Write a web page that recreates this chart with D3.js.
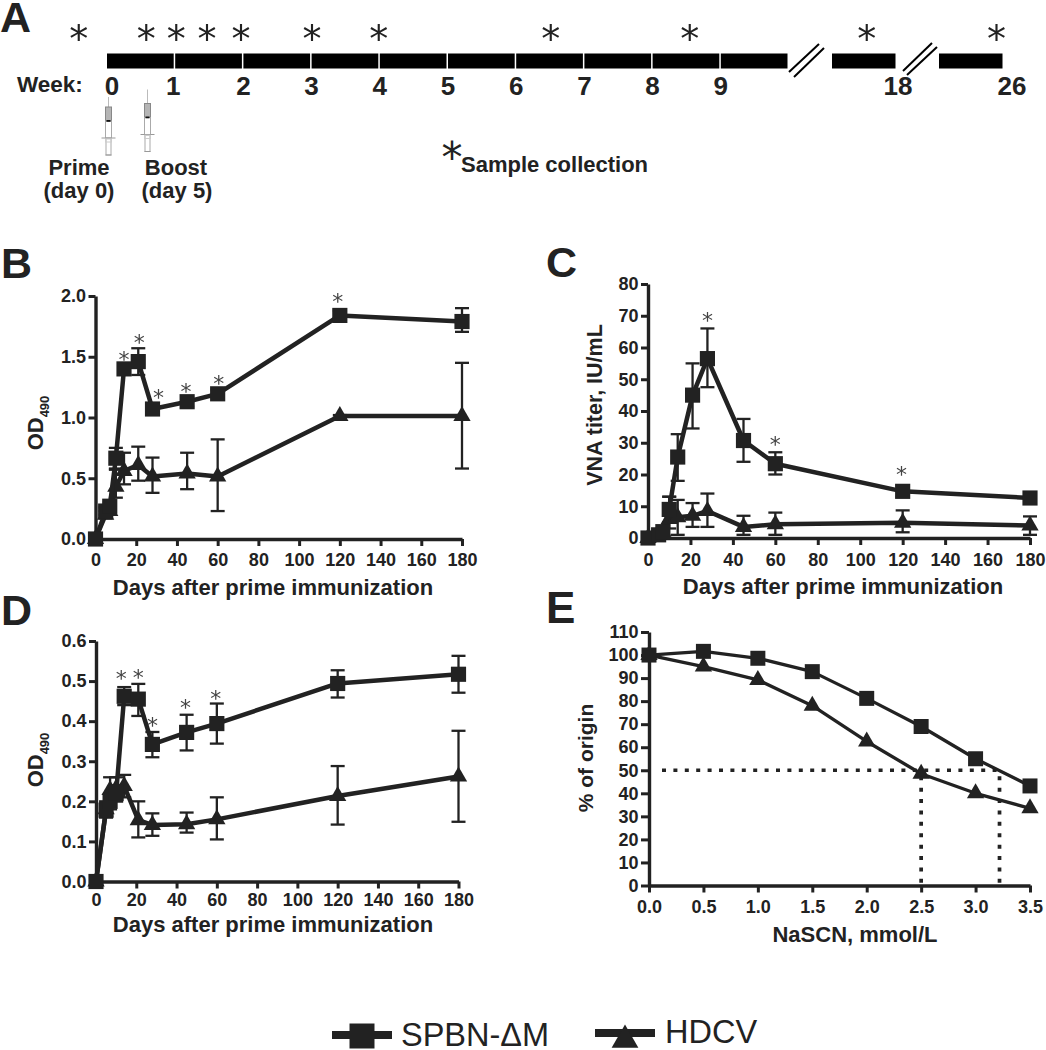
<!DOCTYPE html>
<html>
<head>
<meta charset="utf-8">
<script src="https://cdn.jsdelivr.net/npm/d3@7"></script>
<style>
body { margin: 0; background: #fff; }
text { font-family: "Liberation Sans", Arial, sans-serif; fill: #222; }
.bold { font-weight: bold; }
.star { font-family: "DejaVu Sans", sans-serif; fill: #444; }
.tick text { font-family: "Liberation Sans", Arial, sans-serif; font-weight: bold; font-size: 18px; fill: #222; }
</style>
</head>
<body>
<div class="chart"></div>
<script>
//data

var days = [0, 5, 7, 10, 14, 21, 28, 45, 60, 120, 180];
var dayTicks = [0, 20, 40, 60, 80, 100, 120, 140, 160, 180];

// panel B
var bSquare = [0, 0.23, 0.27, 0.665, 1.40, 1.46, 1.07, 1.13, 1.195, 1.84, 1.79];
var bSquareLow = [0, 0.2, 0.24, 0.57, 1.36, 1.35, 1.03, 1.09, 1.16, 1.8, 1.705];
var bSquareHigh = [0, 0.26, 0.3, 0.75, 1.44, 1.57, 1.11, 1.17, 1.23, 1.88, 1.9];
var bTriangle = [0, 0.2, 0.23, 0.43, 0.56, 0.61, 0.515, 0.54, 0.515, 1.012, 1.012];
var bTriangleLow = [0, 0.17, 0.2, 0.34, 0.45, 0.48, 0.38, 0.41, 0.23, 1.0, 0.58];
var bTriangleHigh = [0, 0.23, 0.26, 0.58, 0.71, 0.76, 0.67, 0.71, 0.82, 1.02, 1.45];
var bTicks = [0, 0.5, 1, 1.5, 2];
var bStarX = [14, 21.5, 31, 44.5, 60.5, 119];
var bStarY = [1.51, 1.65, 1.2, 1.25, 1.315, 1.99];

// panel C
var cSquare = [0, 1, 2, 9, 25.5, 45, 56.5, 30.7, 23.4, 14.7, 12.6];
var cSquareLow = [0, 0.5, 1, 5, 18, 34.5, 47.5, 24, 20, 13, 11];
var cSquareHigh = [0, 1.5, 3, 13, 32.7, 55, 66, 37.5, 27, 16.5, 14];
var cTriangle = [0, 1, 2, 6, 6.5, 7, 8.5, 3.5, 4.3, 4.8, 3.9];
var cTriangleLow = [0, 0.5, 1, 3, 1, 3.5, 3.5, 1, 1, 1.8, 1];
var cTriangleHigh = [0, 1.5, 3, 13, 12, 11, 14, 7, 8, 8.7, 6.8];
var cTicks = [0, 10, 20, 30, 40, 50, 60, 70, 80];
var cStarX = [28, 60, 119.5];
var cStarY = [69.8, 30.6, 21.3];

// panel D
var dSquare = [0, 0.178, 0.2, 0.22, 0.462, 0.455, 0.342, 0.372, 0.394, 0.494, 0.517];
var dSquareLow = [0, 0.16, 0.18, 0.2, 0.44, 0.413, 0.31, 0.327, 0.344, 0.459, 0.471];
var dSquareHigh = [0, 0.196, 0.22, 0.24, 0.485, 0.493, 0.373, 0.416, 0.444, 0.527, 0.563];
var dTriangle = [0, 0.18, 0.228, 0.232, 0.238, 0.153, 0.141, 0.143, 0.155, 0.2135, 0.262];
var dTriangleLow = [0, 0.16, 0.2, 0.2, 0.21, 0.11, 0.114, 0.122, 0.105, 0.142, 0.149];
var dTriangleHigh = [0, 0.2, 0.26, 0.26, 0.266, 0.2, 0.17, 0.172, 0.21, 0.288, 0.376];
var dTicks = [0, 0.1, 0.2, 0.3, 0.4, 0.5, 0.6];
var dStarX = [12.5, 21, 28, 44.5, 59.5];
var dStarY = [0.517, 0.52, 0.398, 0.445, 0.467];

// panel E
var nascn = [0, 0.5, 1, 1.5, 2, 2.5, 3, 3.5];
var eSquare = [100, 101.6, 98.6, 92.8, 81.2, 69, 55, 43.2];
var eTriangle = [100, 95, 89.2, 78, 62.5, 48.5, 40, 33.5];
var eTicks = [0, 10, 20, 30, 40, 50, 60, 70, 80, 90, 100, 110];
var halfValue = 50;
var halfDoses = [2.5, 3.22];

// panel A
var weekLabels = [0, 1, 2, 3, 4, 5, 6, 7, 8, 9, 18, 26];
var weekBlocks = [[0, 1], [1, 2], [2, 3], [3, 4], [4, 5], [5, 6], [6, 7], [7, 8], [8, 9], [9, 10], [17, 18], [25, 26]];
var sampleWeeks = [-0.4, 0.59, 1.03, 1.48, 1.98, 3.02, 4, 6.52, 8.56, 17.55, 25.9];

//define chart area

var svgWidth = 1046;
var svgHeight = 1050;
var ink = "#222";

var svg = d3
.select(".chart")
.append("svg")
.attr("width", svgWidth)
.attr("height", svgHeight)
.style("display", "block");

// keeps the small asterisks grey, no coloured fringes
var noFringe = svg.append("defs").append("filter")
    .attr("id", "noFringe")
    .attr("x", "-50%").attr("y", "-50%").attr("width", "200%").attr("height", "200%");
noFringe.append("feOffset").attr("dx", 0).attr("dy", 0);

function addText(x, y, str, size, weight, anchor) {
    return svg.append("text")
        .attr("x", x)
        .attr("y", y)
        .attr("font-size", size)
        .attr("font-weight", weight || "bold")
        .attr("text-anchor", anchor || "start")
        .text(str);
}

function addStar(x, y, size) {
    return svg.append("text")
        .attr("class", "star")
        .attr("x", x)
        .attr("y", y)
        .attr("font-size", size)
        .attr("text-anchor", "middle")
        .text("*");
}

//panel letters

addText(0, 32, "A", 43);
addText(1, 278, "B", 43);
addText(546, 277, "C", 43);
addText(1, 625, "D", 43);
addText(546, 623, "E", 44);

//timeline, panel A

var weekScale = d3.scaleLinear()
    .domain([0, 10, 17, 18, 25, 26])
    .range([106, 788, 831, 896, 938, 1003]);

svg.append("g").selectAll("rect")
    .data(weekBlocks)
    .enter()
    .append("rect")
    .attr("x", d => weekScale(d[0]) + 1)
    .attr("y", 53.5)
    .attr("width", d => weekScale(d[1]) - weekScale(d[0]) - 1.5)
    .attr("height", 15)
    .attr("fill", "#000");

svg.append("g").selectAll("text")
    .data(weekLabels)
    .enter()
    .append("text")
    .attr("class", "bold")
    .attr("x", d => weekScale(d) + (d === 0 ? 6 : d === 26 ? 9 : d === 18 ? 2 : d === 1 ? -1 : 1))
    .attr("y", 95)
    .attr("font-size", 26)
    .attr("text-anchor", "middle")
    .text(d => d);

svg.append("g")
    .attr("filter", "url(#noFringe)")
    .selectAll("text")
    .data(sampleWeeks)
    .enter()
    .append("text")
    .attr("class", "star")
    .attr("x", d => weekScale(d))
    .attr("y", 52)
    .attr("font-size", 38)
    .attr("text-anchor", "middle")
    .style("fill", ink)
    .text("*");

// axis break marks
[[789, 72, 819, 44], [794, 77, 824, 48], [903, 71, 932, 43], [907, 75, 937, 47]].forEach(d => {
    svg.append("line")
        .attr("x1", d[0]).attr("y1", d[1]).attr("x2", d[2]).attr("y2", d[3])
        .attr("stroke", "#000").attr("stroke-width", 2);
});

addText(17, 92, "Week:", 22.5);
addText(79, 175, "Prime", 22, "bold", "middle");
addText(79, 198, "(day 0)", 22, "bold", "middle");
addText(176, 175, "Boost", 22, "bold", "middle");
addText(177, 198, "(day 5)", 22, "bold", "middle");
addStar(452, 172, 42).style("fill", ink);
addText(461, 172, "Sample collection", 22);

function drawSyringe(x, top, needle) {
    var g = svg.append("g")
        .attr("transform", `translate(${x}, ${top})`)
        .attr("fill", "none")
        .attr("stroke", "#aaa")
        .attr("stroke-width", 1);
    g.append("line").attr("x1", 0).attr("x2", 0).attr("y1", -needle).attr("y2", 0).attr("stroke", "#bbb");
    g.append("rect").attr("x", -3).attr("y", 0).attr("width", 6).attr("height", 14).attr("fill", "#b5b5b5").attr("stroke", "#888");
    g.append("rect").attr("x", -3).attr("y", 14).attr("width", 6).attr("height", 17);
    g.append("rect").attr("x", -2).attr("y", 13).attr("width", 4).attr("height", 1.8).attr("fill", "#111").attr("stroke", "none");
    g.append("line").attr("x1", -7).attr("x2", 7).attr("y1", 31).attr("y2", 31).attr("stroke", "#999");
    g.append("rect").attr("x", -2.5).attr("y", 31).attr("width", 5).attr("height", 17);
    g.append("line").attr("x1", -3).attr("x2", 3).attr("y1", 48).attr("y2", 48).attr("stroke", "#999");
    g.append("rect").attr("x", -3).attr("y", 32).attr("width", 6).attr("height", 3).attr("stroke", "#ccc");
}
drawSyringe(108.5, 107, 10);
drawSyringe(147.5, 103.5, 14);

//line panels

function drawPanel(p) {
    var xScale = d3.scaleLinear().domain(p.xDomain).range(p.xRange);
    var yScale = d3.scaleLinear().domain(p.yDomain).range(p.yRange);

    var bottomAxis = d3.axisBottom(xScale)
        .tickValues(p.xTicks)
        .tickFormat(p.xFormat)
        .tickSizeInner(7)
        .tickSizeOuter(0)
        .tickPadding(p.xPad);
    var leftAxis = d3.axisLeft(yScale)
        .tickValues(p.yTicks)
        .tickFormat(p.yFormat)
        .tickSizeInner(p.yTickLen)
        .tickSizeOuter(0)
        .tickPadding(2.5);

    var xAxis = svg.append("g")
        .attr("transform", `translate(0, ${p.yRange[0]})`)
        .call(bottomAxis);
    var yAxis = svg.append("g")
        .attr("transform", `translate(${p.xRange[0]}, 0)`)
        .call(leftAxis);
    [xAxis, yAxis].forEach(a => {
        a.select(".domain").attr("stroke", ink).attr("stroke-width", 3.4);
        a.selectAll(".tick line").attr("stroke", ink).attr("stroke-width", 3);
    });

    p.series.forEach(s => {
        var g = svg.append("g");

        if (s.low) {
            var bars = g.selectAll("g.err")
                .data(p.xValues.map((x, i) => ({x: x, lo: s.low[i], hi: s.high[i]})).filter(d => d.hi > d.lo))
                .enter()
                .append("g")
                .attr("stroke", ink)
                .attr("stroke-width", 2.3);
            bars.append("line")
                .attr("x1", d => xScale(d.x)).attr("x2", d => xScale(d.x))
                .attr("y1", d => yScale(d.lo)).attr("y2", d => yScale(d.hi));
            bars.append("line")
                .attr("x1", d => xScale(d.x) - 7).attr("x2", d => xScale(d.x) + 7)
                .attr("y1", d => yScale(d.lo)).attr("y2", d => yScale(d.lo));
            bars.append("line")
                .attr("x1", d => xScale(d.x) - 7).attr("x2", d => xScale(d.x) + 7)
                .attr("y1", d => yScale(d.hi)).attr("y2", d => yScale(d.hi));
        }

        var line = d3.line()
            .x((d, i) => xScale(p.xValues[i]))
            .y(d => yScale(d));
        g.append("path")
            .attr("d", line(s.values))
            .attr("fill", "none")
            .attr("stroke", ink)
            .attr("stroke-width", p.lineWidth)
            .attr("stroke-linejoin", "round");

        g.selectAll("path.mark")
            .data(s.values)
            .enter()
            .append("path")
            .attr("class", "mark")
            .attr("d", d3.symbol().type(s.type).size(s.size))
            .attr("transform", (d, i) => `translate(${xScale(p.xValues[i])}, ${yScale(d)})`)
            .attr("fill", ink);
    });

    if (p.starX) {
        svg.append("g")
            .attr("filter", "url(#noFringe)")
            .selectAll("text")
            .data(p.starX)
            .enter()
            .append("text")
            .attr("class", "star")
            .attr("x", d => xScale(d))
            .attr("y", (d, i) => yScale(p.starY[i]) + 11.5)
            .attr("font-size", 22)
            .attr("text-anchor", "middle")
            .text("*");
    }

    return {x: xScale, y: yScale};
}

var oneDecimal = d3.format(".1f");
var whole = d3.format("d");

function timeSeries(sq, sqLow, sqHigh, tri, triLow, triHigh) {
    return [
        {values: tri, low: triLow, high: triHigh, type: d3.symbolTriangle, size: 130},
        {values: sq, low: sqLow, high: sqHigh, type: d3.symbolSquare, size: 230}
    ];
}

drawPanel({
    xDomain: [0, 180], xRange: [95.5, 462], yDomain: [0, 2], yRange: [539, 296],
    xValues: days, xTicks: dayTicks, xFormat: whole, xPad: 7,
    yTicks: bTicks, yFormat: oneDecimal, yTickLen: 7, lineWidth: 4.5,
    series: timeSeries(bSquare, bSquareLow, bSquareHigh, bTriangle, bTriangleLow, bTriangleHigh),
    starX: bStarX, starY: bStarY
});

drawPanel({
    xDomain: [0, 180], xRange: [648, 1030], yDomain: [0, 80], yRange: [538, 284],
    xValues: days, xTicks: dayTicks, xFormat: whole, xPad: 8,
    yTicks: cTicks, yFormat: whole, yTickLen: 7, lineWidth: 4.5,
    series: timeSeries(cSquare, cSquareLow, cSquareHigh, cTriangle, cTriangleLow, cTriangleHigh),
    starX: cStarX, starY: cStarY
});

drawPanel({
    xDomain: [0, 180], xRange: [96, 458.5], yDomain: [0, 0.6], yRange: [881.5, 641],
    xValues: days, xTicks: dayTicks, xFormat: whole, xPad: 4.5,
    yTicks: dTicks, yFormat: oneDecimal, yTickLen: 7, lineWidth: 4.5,
    series: timeSeries(dSquare, dSquareLow, dSquareHigh, dTriangle, dTriangleLow, dTriangleHigh),
    starX: dStarX, starY: dStarY
});

var panelE = drawPanel({
    xDomain: [0, 3.5], xRange: [649, 1030], yDomain: [0, 110], yRange: [885.5, 632],
    xValues: nascn, xTicks: nascn, xFormat: oneDecimal, xPad: 7.5,
    yTicks: eTicks, yFormat: whole, yTickLen: 8, lineWidth: 3.3,
    series: [
        {values: eTriangle, type: d3.symbolTriangle, size: 130},
        {values: eSquare, type: d3.symbolSquare, size: 225}
    ]
});

// dotted 50% guides
var dotted = svg.append("g")
    .attr("fill", "none")
    .attr("stroke", ink)
    .attr("stroke-width", 3.7)
    .attr("stroke-dasharray", "4 7.4");
dotted.append("line")
    .attr("x1", panelE.x(0) + 13).attr("x2", panelE.x(halfDoses[1]))
    .attr("y1", panelE.y(halfValue)).attr("y2", panelE.y(halfValue));
dotted.selectAll("line.drop")
    .data(halfDoses)
    .enter()
    .append("line")
    .attr("class", "drop")
    .attr("x1", d => panelE.x(d)).attr("x2", d => panelE.x(d))
    .attr("y1", panelE.y(halfValue) + 6).attr("y2", panelE.y(0));

//axis titles

var xTitle = "Days after prime immunization";
addText(273, 595, xTitle, 22, "bold", "middle");
addText(843, 594, xTitle, 22, "bold", "middle");
addText(273, 932, xTitle, 22, "bold", "middle");
addText(855, 942, "NaSCN, mmol/L", 22, "bold", "middle");

function addYTitle(x, y, str, size, sub) {
    var t = svg.append("text")
        .attr("class", "bold")
        .attr("transform", `translate(${x}, ${y}) rotate(-90)`)
        .attr("text-anchor", "middle")
        .attr("font-size", size)
        .text(str);
    if (sub) {
        t.append("tspan").attr("font-size", 13).attr("dy", 6).text(sub);
    }
}
addYTitle(43, 423, "OD", 22, "490");
addYTitle(43, 760, "OD", 22, "490");
addYTitle(602, 405, "VNA titer, IU/mL", 21.5);
addYTitle(593, 758, "% of origin", 21);

//legend

var legend = svg.append("g");
legend.append("line").attr("x1", 332).attr("x2", 392).attr("y1", 1035).attr("y2", 1035)
    .attr("stroke", ink).attr("stroke-width", 8);
legend.append("path")
    .attr("d", d3.symbol().type(d3.symbolSquare).size(625))
    .attr("transform", "translate(362, 1036)")
    .attr("fill", ink);
legend.append("line").attr("x1", 595).attr("x2", 655).attr("y1", 1033).attr("y2", 1033)
    .attr("stroke", ink).attr("stroke-width", 8);
legend.append("path")
    .attr("d", d3.symbol().type(d3.symbolTriangle).size(310))
    .attr("transform", "translate(625, 1040)")
    .attr("fill", ink);
addText(401, 1046, "SPBN-ΔM", 32.5, "normal");
addText(665, 1043, "HDCV", 32.5, "normal");
</script>
</body>
</html>
